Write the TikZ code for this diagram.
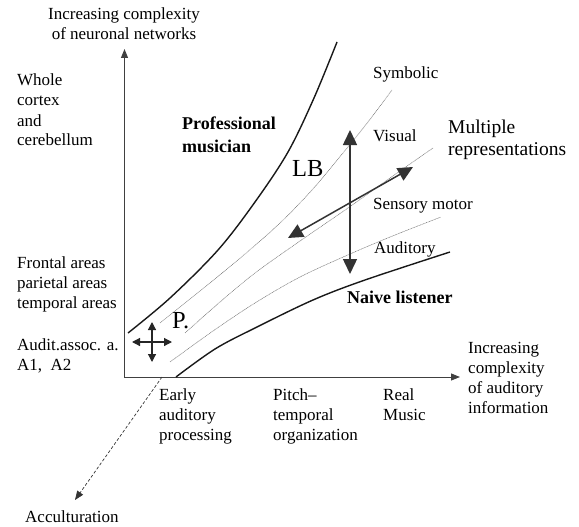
\documentclass[tikz,border=0pt]{standalone}
\usepackage{fontspec}
\setmainfont{Liberation Serif}
\usetikzlibrary{arrows.meta}
\begin{document}
\begin{tikzpicture}[x=1pt,y=-1pt,
  lbl/.style={inner sep=0pt, anchor=base west, align=left, font=\fontsize{17}{20}\selectfont},
  bigl/.style={inner sep=0pt, anchor=base west, align=left, font=\fontsize{19.5}{22}\selectfont},
  bld/.style={inner sep=0pt, anchor=base west, align=left, font=\fontsize{18}{24}\selectfont\bfseries},
  hugel/.style={inner sep=0pt, anchor=base west, font=\fontsize{24.5}{28}\selectfont},
  axisline/.style={line width=0.9pt, draw=black!75, {Triangle[width=7pt,length=9pt]}-{Triangle[width=7pt,length=9pt]}},
  thickcurve/.style={line width=1.4pt, draw=black!90},
  thincurve/.style={line width=0.5pt, draw=black!55, dash pattern=on 1pt off 0.6pt},
  bigarrow/.style={line width=1.5pt, draw=black!80, {Triangle[width=14pt,length=15pt]}-{Triangle[width=14pt,length=15pt]}},
  smallarrow/.style={line width=1.2pt, draw=black!85, {Triangle[width=8pt,length=8pt]}-{Triangle[width=8pt,length=8pt]}},
  dasharrow/.style={line width=0.7pt, draw=black!80, dash pattern=on 3pt off 2pt, -{Triangle[width=7pt,length=9pt]}}
]
\useasboundingbox (0,0) rectangle (579,527);

% axes
\coordinate (O) at (124.5,377);
\coordinate (Ytip) at (124.5,49);
\coordinate (Xtip) at (460,377);
\draw[axisline] (Ytip) -- (O) -- (Xtip);

% curves
\draw[thickcurve] plot[smooth, tension=0.55] coordinates {(128,333) (170,298) (218,250) (255,202) (288,152) (314,98) (337,42)};
\draw[thickcurve] plot[smooth, tension=0.55] coordinates {(176,377) (215,349) (255,328) (313,300) (365,280) (450,252)};
\draw[thincurve] plot[smooth, tension=0.55] coordinates {(160,323) (205,287) (245,254) (280,223) (312,190) (343,153) (368,122) (392,90)};
\draw[thincurve] plot[smooth, tension=0.55] coordinates {(185,333) (220,302) (255,273) (300,241) (348,208) (390,178) (433,148)};
\draw[thincurve] plot[smooth, tension=0.55] coordinates {(170,362) (213,331) (255,303) (300,277) (350,254) (395,235) (441,217)};

% arrows
\coordinate (vtop) at (350,130);
\coordinate (vbot) at (350,274);
\draw[bigarrow] (vtop) -- (vbot);
\coordinate (dlow) at (288,238);
\coordinate (dhigh) at (413,167);
\draw[bigarrow] (dlow) -- (dhigh);
\coordinate (cl) at (132,342);
\coordinate (cr) at (172,342);
\coordinate (ct) at (152,322);
\coordinate (cb) at (152,362);
\draw[smallarrow] (cl) -- (cr);
\draw[smallarrow] (ct) -- (cb);
\coordinate (dstart) at (162,377);
\coordinate (dend) at (75,500);
\draw[dasharrow] (dstart) -- (dend);

% labels (base anchor = baseline of the last line)
\node[lbl, align=center, anchor=base] (ylab) at (124,40) {Increasing complexity\\of neuronal networks};
\node[lbl] (whole) at (17,146) {Whole\\cortex\\and\\cerebellum};
\node[lbl] (frontal) at (17,308) {Frontal areas\\parietal areas\\temporal areas};
\node[lbl] (audit) at (17,370) {Audit.assoc. a.\\A1,\ \ A2};
\node[bld] (pro) at (182,153) {Professional\\musician};
\node[bld] (naive) at (347,303) {Naive listener};
\node[hugel] (lb) at (292,176) {LB};
\node[hugel] (p) at (172,328) {P.};
\node[lbl] (symb) at (373,79) {Symbolic};
\node[lbl] (vis) at (373,142) {Visual};
\node[bigl] (multi) at (448,155) {Multiple\\representations};
\node[lbl] (senso) at (373,209) {Sensory motor};
\node[lbl] (audi) at (374,253) {Auditory};
\node[lbl] (early) at (159,440) {Early\\auditory\\processing};
\node[lbl] (pitch) at (273,440) {Pitch--\\temporal\\organization};
\node[lbl] (real) at (383,420) {Real\\Music};
\node[lbl] (xlab) at (468,413) {Increasing\\complexity\\of auditory\\information};
\node[lbl] (accu) at (25,522) {Acculturation};
\end{tikzpicture}
\end{document}
